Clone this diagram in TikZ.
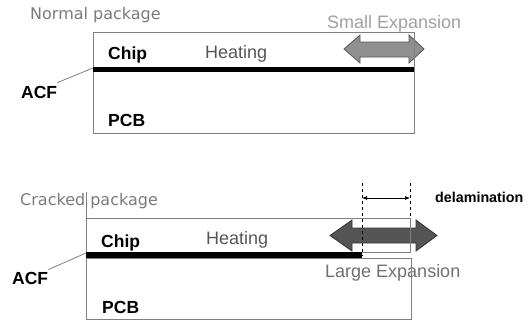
\documentclass[tikz,border=0pt]{standalone}
\usepackage{fontspec}
\setmainfont{Liberation Sans}
\newfontfamily\titlefont{DejaVu Sans}
\usetikzlibrary{arrows.meta}

\definecolor{boxgray}{HTML}{808080}
\definecolor{titlegray}{HTML}{7A7A7A}
\definecolor{heatgray}{HTML}{555555}
\definecolor{smallgray}{HTML}{A0A0A0}
\definecolor{largegray}{HTML}{707070}

\tikzset{
  txt/.style={inner sep=0pt,anchor=base west},
  lbl/.style={txt,font=\fontsize{17.5bp}{20bp}\selectfont\bfseries},
  heat/.style={txt,text=heatgray,font=\fontsize{18bp}{21bp}\selectfont},
  pkgtitle/.style={txt,text=titlegray,font=\titlefont\fontsize{16bp}{19bp}\selectfont},
  layer/.style={draw=boxgray,line width=1bp},
  acfline/.style={line width=5.5bp,line cap=butt},
  leader/.style={draw=boxgray,line width=0.8bp},
}

\begin{document}
\begin{tikzpicture}[x=1bp,y=-1bp,>=Latex]
  \useasboundingbox (0,0) rectangle (532,322);
  % normal package
  \node[pkgtitle] (ntitle) at (30,19) {Normal package};
  \node[txt,text=smallgray,font=\fontsize{18bp}{21bp}\selectfont] (nexp) at (327,28) {Small Expansion};
  \draw[fill=smallgray!90!black,draw=heatgray,line width=0.8bp]
    (344,49) -- (360,35) -- (360,42) -- (409,42) -- (409,35) -- (424,49)
    -- (409,63) -- (409,57) -- (360,57) -- (360,63) -- cycle;
  \draw[layer] (93,32) rectangle (414,133);
  \draw[acfline] (93,69.5) coordinate (nacf) -- (414,69.5);
  \node[lbl] (nchip) at (108,59) {Chip};
  \node[heat] (nheat) at (205,58) {Heating};
  \node[lbl] (npcb) at (108,126) {PCB};
  \node[lbl] (nacflbl) at (21,98) {ACF};
  \draw[leader] (nacflbl.north east) ++(0,-3) -- ([yshift=1.5bp]nacf);

  % cracked package
  \node[pkgtitle] (ctitle) at (20,205) {Cracked package};
  \draw[fill=heatgray,draw=black!80,line width=0.8bp]
    (330,235.5) -- (352,220) -- (352,228) -- (416,228) -- (416,220) -- (437,235.5)
    -- (416,251) -- (416,243) -- (352,243) -- (352,251) -- cycle;
  \draw[layer] (86,192) -- (86,218);
  \draw[layer] (86,218) rectangle (410,252);
  \draw[layer] (86,258) rectangle (411,319);
  \draw[acfline] (86,255) coordinate (cacf) -- (362,255) coordinate (ccrack);
  \draw[dashed,line width=0.7bp] (362,183) coordinate (dl) -- (ccrack);
  \draw[dashed,line width=0.7bp] (410,183) coordinate (dr) -- (410,218);
  \draw[<->,line width=0.7bp,>={Latex[length=5bp,width=4bp]}] ([yshift=-15bp]dl) -- ([yshift=-15bp]dr);
  \node[txt,font=\fontsize{14.3bp}{17bp}\selectfont\bfseries] (delam) at (435,202) {delamination};
  \node[lbl] (cchip) at (101,247) {Chip};
  \node[heat] (cheat) at (206,244) {Heating};
  \node[lbl] (cpcb) at (102,313) {PCB};
  \node[lbl] (cacflbl) at (12,284) {ACF};
  \draw[leader] (cacflbl.north east) ++(0,-2) -- ([yshift=2bp]cacf);
  \node[txt,text=largegray,font=\fontsize{18bp}{21bp}\selectfont] (cexp) at (325,277) {Large Expansion};
\end{tikzpicture}
\end{document}
